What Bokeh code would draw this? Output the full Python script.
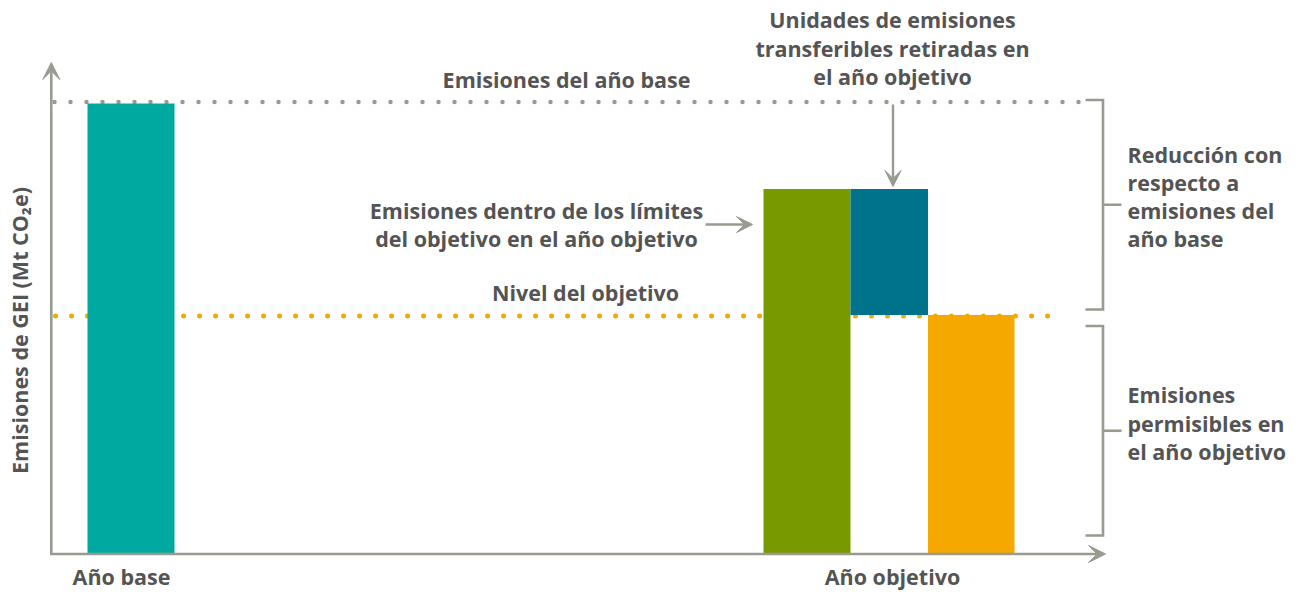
from bokeh.plotting import figure
from bokeh.models import Range1d, Arrow, VeeHead
from bokeh.embed import file_html
from bokeh.resources import INLINE
from bokeh.core.properties import value

# ---------------- data (conceptual, relative units; base year = 100) ----------------
categories = ["Año base", "Año objetivo"]
base_year_emissions = [100]          # Año base bar
within_boundary_emissions = [81]     # green bar, Año objetivo
retired_units = [28]                 # dark teal stacked piece
target_level = [53]                  # Nivel del objetivo / orange bar

y_title = "Emisiones de GEI (Mt CO₂e)"
lbl_base_line = "Emisiones del año base"
lbl_target_line = "Nivel del objetivo"
lbl_units = ["Unidades de emisiones", "transferibles retiradas en", "el año objetivo"]
lbl_within = ["Emisiones dentro de los límites", "del objetivo en el año objetivo"]
lbl_reduction = ["Reducción con", "respecto a", "emisiones del", "año base"]
lbl_allowed = ["Emisiones", "permisibles en", "el año objetivo"]

# ---------------- layout ----------------
W, H = 1301, 594
PX = 4.5           # pixels per unit
Y0 = 553           # page y of the baseline
TSHIFT = 9         # text baseline correction (px)


def yd(Y):
    """page pixel row -> data y"""
    return (Y0 - Y) / PX


def yt(Y):
    """text baseline row -> data y"""
    return yd(Y - TSHIFT)


def dy(px):
    return px / PX


GREY = "#9A9A90"
TXT = "#545454"
C_BASE = "#00A99F"
C_WITHIN = "#779A00"
C_RETIRED = "#00738C"
C_TARGET = "#F5A800"
FONT = "Open Sans"
FS = "21.5px"
LH = 28.5

p = figure(width=W, height=H, x_range=Range1d(0, W), y_range=Range1d(yd(H), yd(0)),
           output_backend="svg", toolbar_location=None, min_border=0,
           x_axis_type=None, y_axis_type=None, outline_line_color=None,
           background_fill_color="white", border_fill_color="white")
p.grid.visible = False

base = base_year_emissions[0]
within = within_boundary_emissions[0]
retired = retired_units[0]
target = target_level[0]

# dotted reference lines (drawn beneath the bars)
p.line(x=[54, 1090], y=[base + dy(1.5), base + dy(1.5)], line_color=GREY, line_width=4.5,
       line_dash="0 16", line_cap="round")
p.line(x=[55, 1060], y=[target - dy(1), target - dy(1)], line_color=C_TARGET, line_width=5,
       line_dash="0 16", line_cap="round")

# bars
p.quad(left=[87], right=[174], bottom=[0], top=base_year_emissions, fill_color=C_BASE, line_color=None)
p.quad(left=[763], right=[850], bottom=[0], top=within_boundary_emissions, fill_color=C_WITHIN, line_color=None)
p.quad(left=[850], right=[927.5], bottom=target_level, top=[target + retired], fill_color=C_RETIRED, line_color=None)
p.quad(left=[927.5], right=[1014], bottom=[0], top=target_level, fill_color=C_TARGET, line_color=None)

# axes with arrow heads
p.add_layout(Arrow(end=VeeHead(size=17, fill_color=GREY, line_color=GREY, line_width=1),
                   x_start=50.8, y_start=-dy(1.5), x_end=50.8, y_end=yd(62),
                   line_color=GREY, line_width=2.6))
p.add_layout(Arrow(end=VeeHead(size=17, fill_color=GREY, line_color=GREY, line_width=1),
                   x_start=49.5, y_start=-dy(0.5), x_end=1105, y_end=-dy(0.5),
                   line_color=GREY, line_width=2.6))

# pointer arrows
p.add_layout(Arrow(end=VeeHead(size=16, fill_color=GREY, line_color=GREY, line_width=1),
                   x_start=892.5, y_start=yd(104), x_end=892.5, y_end=within + dy(2.5),
                   line_color=GREY, line_width=2.4))
p.add_layout(Arrow(end=VeeHead(size=16, fill_color=GREY, line_color=GREY, line_width=1),
                   x_start=705, y_start=yd(224), x_end=752, y_end=yd(224),
                   line_color=GREY, line_width=2.4))

# brackets
bx, bl, bt = 1102.5, 1085, 1121
u_top, u_bot = base + dy(3.5), target + dy(5.5)
l_top, l_bot = target - dy(11), dy(18)
u_mid = (u_top + u_bot) / 2
l_mid = (l_top + l_bot) / 2
p.multi_line(xs=[[bl, bx, bx, bl], [bx, bt], [bl, bx, bx, bl], [bx, bt]],
             ys=[[u_top, u_top, u_bot, u_bot], [u_mid, u_mid], [l_top, l_top, l_bot, l_bot], [l_mid, l_mid]],
             line_color=GREY, line_width=2.6, line_join="miter")

# texts
def txt(xs, ys, texts, align="center"):
    p.text(x=xs, y=ys, text=texts, text_font=value(FONT), text_font_size=FS,
           text_font_style="bold", text_color=TXT, text_align=align, text_baseline="alphabetic")


txt([566], [yt(88)], [lbl_base_line])
txt([585], [yt(301)], [lbl_target_line])
txt([892] * 3, [yt(28 + i * LH) for i in range(3)], lbl_units)
txt([536] * 2, [yt(219 + i * 28) for i in range(2)], lbl_within)
txt([1127] * 4, [yt(163 + i * 28) for i in range(4)], lbl_reduction, align="left")
txt([1127] * 3, [yt(403 + i * 28.5) for i in range(3)], lbl_allowed, align="left")
txt([121, 892], [yt(585), yt(585)], categories)

p.text(x=[19], y=[yd(330)], text=[y_title], angle=1.5708, text_font=value(FONT), text_font_size=FS,
       text_font_style="bold", text_color=TXT, text_align="center", text_baseline="middle")

open("out.html", "w").write(file_html(p, INLINE))
